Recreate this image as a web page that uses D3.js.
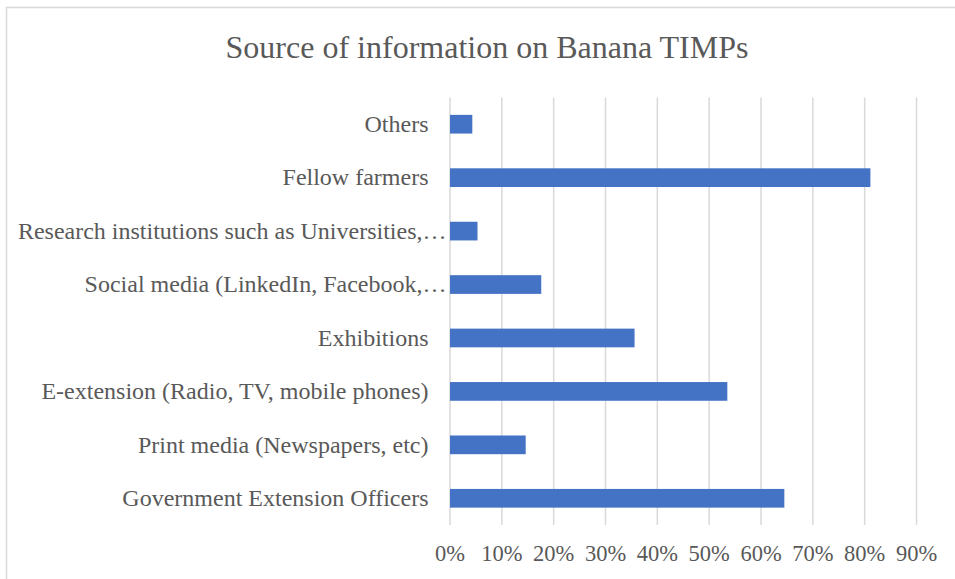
<!DOCTYPE html>
<html>
<head>
<meta charset="utf-8">
<script src="https://cdn.jsdelivr.net/npm/d3@7"></script>
<style>
  html, body { margin: 0; padding: 0; background: #fff; }
  svg { display: block; font-family: "Liberation Serif", "Times New Roman", serif; }
</style>
</head>
<body>
<svg id="chart" width="955" height="579"></svg>
<script>
// Sources of information, listed top to bottom
const categories = [
  "Others",
  "Fellow farmers",
  "Research institutions such as Universities,…",
  "Social media (LinkedIn, Facebook,…",
  "Exhibitions",
  "E-extension (Radio, TV, mobile phones)",
  "Print media (Newspapers, etc)",
  "Government Extension Officers"
];
// Share of respondents per source
const shares = [0.044, 0.812, 0.054, 0.177, 0.357, 0.536, 0.147, 0.646];
const tickValues = [0, 0.1, 0.2, 0.3, 0.4, 0.5, 0.6, 0.7, 0.8, 0.9];
const titleText = "Source of information on Banana TIMPs";

const svg = d3.select("#chart");
const textColor = "#595959";
const gridColor = "#d9d9d9";
const barColor = "#4472c4";

// Chart frame
svg.append("rect")
  .attr("x", 6.5).attr("y", 7.5)
  .attr("width", 1000).attr("height", 1000)
  .attr("fill", "#fff")
  .attr("stroke", "#d9d9d9").attr("stroke-width", 1.5);

const plotLeft = 449.5, plotRight = 916, plotTop = 97.5, plotBottom = 525;

const x = d3.scaleLinear().domain([0, 0.9]).range([plotLeft, plotRight]);
const y = d3.scaleBand().domain(categories).range([plotTop, plotBottom])
  .paddingInner(0.65).paddingOuter(0.325);

// Vertical gridlines + percentage labels
const xAxis = d3.axisBottom(x)
  .tickValues(tickValues)
  .tickFormat(d3.format(".0%"))
  .tickSize(-(plotBottom - plotTop))
  .tickPadding(0);

const gx = svg.append("g")
  .attr("transform", `translate(0,${plotBottom})`)
  .call(xAxis);
gx.select(".domain").remove();
gx.selectAll(".tick line").attr("stroke", gridColor).attr("stroke-width", 1.5);
gx.selectAll(".tick text")
  .attr("y", 28).attr("dy", "0.35em")
  .attr("fill", textColor)
  .style("font-size", "22.5px")
  .style("font-family", "Liberation Serif, Times New Roman, serif");

// Bars
svg.append("g").selectAll("rect")
  .data(categories)
  .join("rect")
  .attr("x", x(0) + 0.5)
  .attr("y", d => y(d))
  .attr("width", (d, i) => x(shares[i]) - x(0) - 0.5)
  .attr("height", y.bandwidth())
  .attr("fill", barColor);

// Category labels; truncated ones run right up to the axis
const yAxis = d3.axisLeft(y).tickSize(0).tickPadding(21);
const gy = svg.append("g")
  .attr("transform", `translate(${plotLeft},0)`)
  .call(yAxis);
gy.select(".domain").remove();
gy.selectAll(".tick text")
  .attr("x", d => d.endsWith("…") ? -3 : -21)
  .attr("fill", textColor)
  .style("font-size", "24px")
  .style("font-family", "Liberation Serif, Times New Roman, serif");

// Title
svg.append("text")
  .attr("x", 487).attr("y", 47)
  .attr("dy", "0.35em")
  .attr("text-anchor", "middle")
  .attr("fill", textColor)
  .style("font-size", "32px")
  .text(titleText);
</script>
</body>
</html>
